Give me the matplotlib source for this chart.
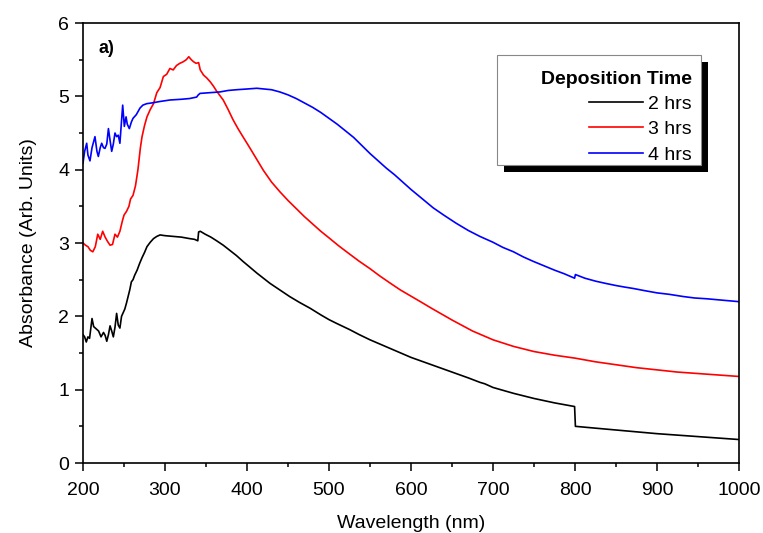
import matplotlib
matplotlib.use("Agg")
import matplotlib.pyplot as plt
from matplotlib.patches import Rectangle

plt.rcParams["font.family"] = ["Liberation Sans", "DejaVu Sans"]

# Absorbance spectra
wl_2h = [200, 202, 204, 206, 208, 211, 213, 216, 219, 222, 225, 227, 229, 231, 233, 235, 237, 239,
         241, 243, 245, 247, 249, 251, 253, 255, 257, 259, 261, 263, 266, 269, 272, 275, 278, 282,
         286, 290, 294, 300, 310, 320, 330, 336, 340, 341, 343, 349, 356, 363, 371, 379, 387, 395,
         403, 412, 420, 428, 440, 452, 464, 477, 490, 500, 509, 525, 537, 550, 575, 600, 625, 650,
         670, 684, 690, 696, 700, 725, 750, 775, 799.5, 800.5, 825, 850, 875, 900, 925, 950, 975,
         1000]
abs_2h = [1.75, 1.72, 1.65, 1.72, 1.70, 1.97, 1.86, 1.83, 1.80, 1.72, 1.78, 1.74, 1.66, 1.75, 1.87,
          1.80, 1.72, 1.85, 2.04, 1.88, 1.84, 2.00, 2.05, 2.10, 2.18, 2.27, 2.36, 2.47, 2.50, 2.56,
          2.63, 2.72, 2.80, 2.87, 2.95, 3.01, 3.06, 3.09, 3.11, 3.10, 3.09, 3.08, 3.06, 3.05, 3.03,
          3.15, 3.16, 3.12, 3.08, 3.03, 2.97, 2.90, 2.83, 2.75, 2.675, 2.59, 2.52, 2.45, 2.36, 2.27,
          2.19, 2.11, 2.02, 1.955, 1.905, 1.82, 1.75, 1.68, 1.56, 1.44, 1.34, 1.24, 1.16, 1.10, 1.08,
          1.05, 1.03, 0.95, 0.88, 0.82, 0.77, 0.50, 0.475, 0.45, 0.425, 0.40, 0.38, 0.36, 0.34, 0.32]

wl_3h = [200, 203, 206, 209, 212, 215, 218, 221, 224, 227, 230, 233, 236, 239, 242, 245, 248, 250,
         253, 256, 258, 261, 264, 267, 270, 272, 275, 278, 282, 286, 290, 294, 298, 302, 306, 310,
         314, 318, 322, 326, 329, 332, 335, 338, 341, 343, 347, 351, 355, 359, 363, 367, 371, 377,
         383, 389, 395, 400, 406, 413, 420, 430, 440, 450, 460, 470, 480, 490, 500, 512, 525, 537,
         550, 562, 575, 587, 600, 613, 625, 650, 675, 700, 725, 750, 775, 800, 825, 850, 875, 900,
         925, 950, 975, 1000]
abs_3h = [3.00, 2.97, 2.95, 2.90, 2.88, 2.95, 3.12, 3.05, 3.16, 3.08, 3.02, 2.97, 2.98, 3.12, 3.08,
          3.16, 3.30, 3.38, 3.43, 3.50, 3.60, 3.65, 3.78, 4.00, 4.30, 4.45, 4.60, 4.72, 4.82, 4.90,
          5.05, 5.12, 5.27, 5.30, 5.38, 5.36, 5.42, 5.45, 5.47, 5.50, 5.54, 5.50, 5.47, 5.45, 5.46,
          5.36, 5.29, 5.25, 5.20, 5.14, 5.07, 5.01, 4.95, 4.82, 4.68, 4.56, 4.45, 4.36, 4.25, 4.12,
          3.99, 3.83, 3.70, 3.58, 3.47, 3.36, 3.26, 3.16, 3.07, 2.96, 2.85, 2.75, 2.65, 2.55, 2.45,
          2.36, 2.275, 2.19, 2.11, 1.95, 1.80, 1.68, 1.59, 1.52, 1.47, 1.43, 1.38, 1.34, 1.30, 1.27,
          1.24, 1.22, 1.20, 1.18]

wl_4h = [200, 202, 204.5, 206, 208.5, 211, 214.6, 217, 218.7, 221, 222.8, 225, 226.8, 229, 231, 233,
         235, 237, 239, 241, 243, 245, 248.4, 250.4, 252.5, 254, 256.5, 259, 261, 265, 269.5, 273,
         277.7, 284, 294, 306, 320, 330, 338.6, 340.6, 342.7, 355, 367, 377, 387, 400, 412, 421, 430,
         440, 450, 460, 470, 480, 490, 500, 510, 520, 530, 540, 550, 560, 570, 580, 590, 600, 613,
         627, 640, 655, 670, 684, 690, 700, 712, 725, 737, 749, 762, 775, 787, 799.5, 800.5, 812,
         825, 837, 850, 860, 871, 885, 900, 915, 932, 946, 960, 980, 1000]
abs_4h = [4.09, 4.25, 4.36, 4.20, 4.12, 4.30, 4.45, 4.25, 4.18, 4.30, 4.36, 4.30, 4.29, 4.35, 4.56,
          4.40, 4.25, 4.35, 4.50, 4.45, 4.47, 4.36, 4.88, 4.59, 4.72, 4.62, 4.56, 4.65, 4.70, 4.75,
          4.84, 4.88, 4.90, 4.91, 4.93, 4.95, 4.96, 4.97, 4.99, 5.02, 5.04, 5.05, 5.06, 5.08, 5.09,
          5.10, 5.11, 5.10, 5.09, 5.06, 5.02, 4.97, 4.91, 4.85, 4.78, 4.70, 4.62, 4.53, 4.44, 4.33,
          4.22, 4.12, 4.02, 3.93, 3.83, 3.73, 3.61, 3.48, 3.38, 3.27, 3.17, 3.09, 3.06, 3.01, 2.94,
          2.88, 2.81, 2.75, 2.69, 2.63, 2.58, 2.52, 2.57, 2.52, 2.48, 2.45, 2.42, 2.40, 2.38, 2.35,
          2.32, 2.30, 2.27, 2.25, 2.24, 2.22, 2.20]

labels = ["2 hrs", "3 hrs", "4 hrs"]
colors = ["black", "red", "blue"]

fig = plt.figure(figsize=(7.63, 5.33), dpi=100)
ax = fig.add_axes([83 / 763, 70 / 533, 656 / 763, 440 / 533])

for x, y, lab, c in zip([wl_2h, wl_3h, wl_4h], [abs_2h, abs_3h, abs_4h], labels, colors):
    ax.plot(x, y, color=c, lw=1.2, label=lab)

ax.set_xlim(200, 1000)
ax.set_ylim(0, 6)
ax.set_xticks(range(200, 1001, 100))
ax.set_xticks(range(250, 1000, 100), minor=True)
ax.set_yticks(range(0, 7))
ax.set_yticks([0.5 + i for i in range(6)], minor=True)
ax.tick_params(which="major", direction="out", length=6, width=1.1, labelsize=14)
ax.tick_params(which="minor", direction="out", length=3, width=1.1)
ax.tick_params(axis="x", pad=8)
ax.tick_params(axis="y", pad=4)
for s in ax.spines.values():
    s.set_linewidth(1.2)

ax.set_xlabel("Wavelength (nm)", fontsize=14, labelpad=11)
ax.set_ylabel("Absorbance (Arb. Units)", fontsize=14, labelpad=15)

ax.text(0.023, 0.943, "a)", transform=ax.transAxes, fontsize=13, fontweight="bold",
        ha="left", va="center")

# legend box with black drop shadow
bx0, bx1, by0, by1 = 0.631, 0.942, 0.677, 0.927
dx, dy = 7 / 656, 7 / 440
ax.add_patch(Rectangle((bx0 + dx, by0 - dy), bx1 - bx0, by1 - by0, transform=ax.transAxes,
                       facecolor="black", edgecolor="none", zorder=5))
ax.add_patch(Rectangle((bx0, by0), bx1 - bx0, by1 - by0, transform=ax.transAxes,
                       facecolor="white", edgecolor="#888888", lw=0.8, zorder=6))

leg = ax.legend(title="Deposition Time", loc="upper right", bbox_to_anchor=(0.928, 0.892),
                frameon=False, fontsize=14, title_fontproperties={"weight": "bold", "size": 14},
                alignment="right", handlelength=2.8, handletextpad=0.26, labelspacing=0.4,
                borderpad=0, borderaxespad=0)
leg.set_zorder(7)

fig.savefig("out.png", dpi=100)
